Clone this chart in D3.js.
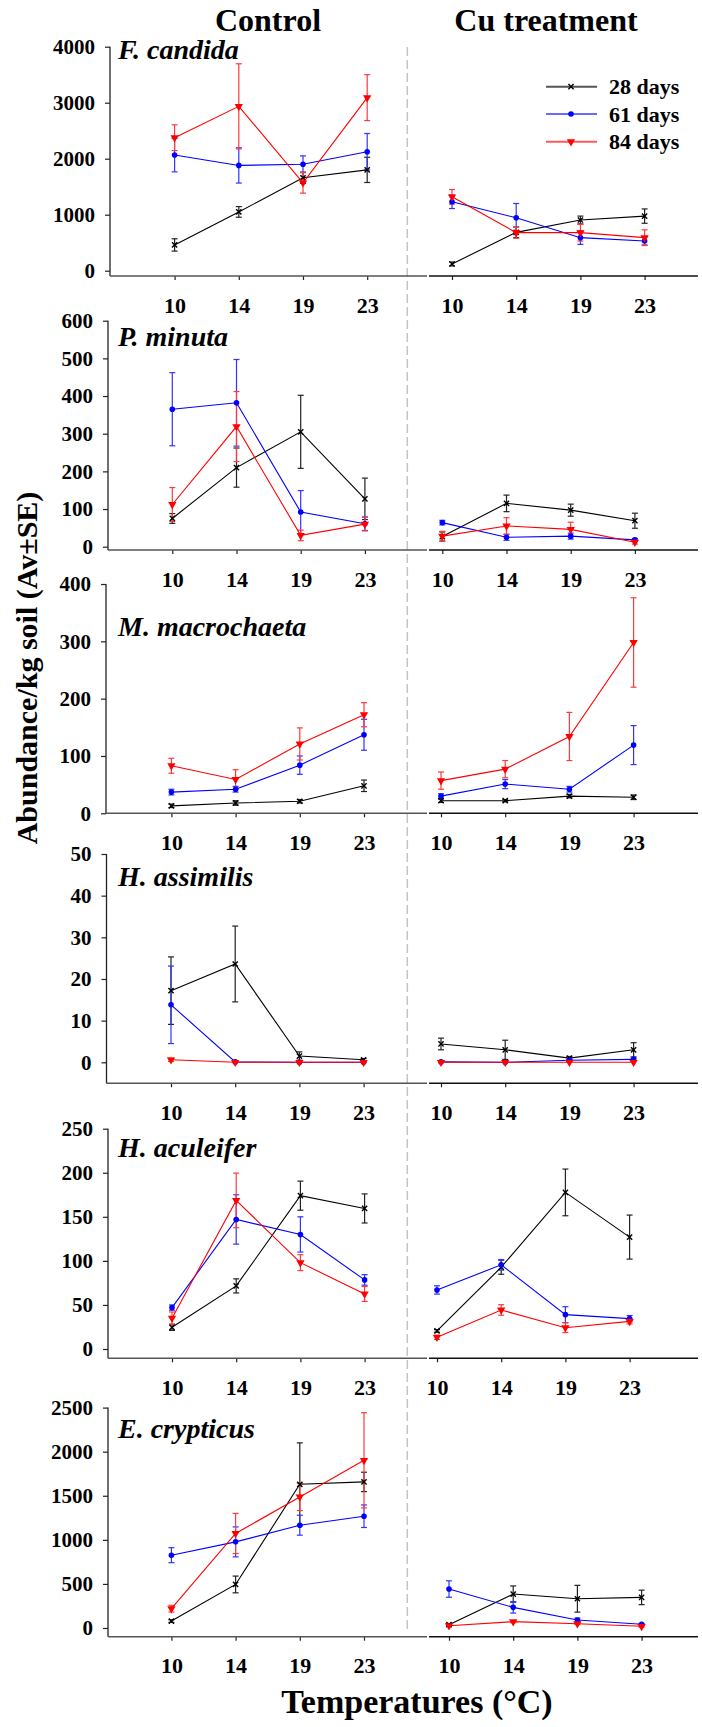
<!DOCTYPE html>
<html>
<head>
<meta charset="utf-8">
<script src="https://cdn.jsdelivr.net/npm/d3@7"></script>
<style>
  html, body { margin: 0; padding: 0; background: #fff; }
  svg { display: block; font-family: "Liberation Serif", "Times New Roman", serif; }
</style>
</head>
<body>
<svg id="chart" width="702" height="1727"></svg>
<script>
// ---- categories ----
const temps = ["10", "14", "19", "23"];
const seriesNames = ["28 days", "61 days", "84 days"];
const treatments = ["Control", "Cu treatment"];
const speciesNames = ["F. candida", "P. minuta", "M. macrochaeta", "H. assimilis", "H. aculeifer", "E. crypticus"];

// ---- abundance means and SE, rows = 28 / 61 / 84 days, columns = temperatures ----
const fCandidaControl   = [[460, 1050, 1660, 1800], [2065, 1880, 1900, 2125], [2375, 2935, 1570, 3090]];
const fCandidaControlSE = [[110, 95, 100, 225], [300, 315, 150, 325], [230, 760, 185, 410]];
const fCandidaCu        = [[120, 685, 905, 975], [1230, 945, 590, 530], [1320, 680, 680, 590]];
const fCandidaCuSE      = [[35, 95, 70, 128], [120, 255, 120, 70], [130, 100, 150, 140]];

const pMinutaControl    = [[75, 210, 305, 127], [365, 382, 92, 61], [112, 319, 30, 60]];
const pMinutaControlSE  = [[13, 52, 97, 55], [97, 115, 57, 18], [45, 93, 14, 18]];
const pMinutaCu         = [[27, 115, 97, 69], [64, 25, 28, 18], [28, 55, 46, 12]];
const pMinutaCuSE       = [[12, 22, 16, 20], [6, 8, 8, 4], [13, 22, 19, 5]];

const mMacroControl     = [[13, 18, 21, 48], [37, 42, 84, 137], [83, 59, 121, 172]];
const mMacroControlSE   = [[3, 4, 3, 10], [5, 5, 16, 27], [13, 17, 28, 21]];
const mMacroCu          = [[22, 22, 30, 28], [30, 51, 42, 119], [57, 77, 134, 298]];
const mMacroCuSE        = [[3, 2, 3, 4], [4, 8, 5, 34], [15, 15, 42, 78]];

const hAssimControl     = [[17.2, 23.6, 1.5, 0.6], [13.8, 0.1, 0, 0], [0.6, 0, 0, 0]];
const hAssimControlSE   = [[8.1, 9.1, 1, 0.3], [9.3, 0, 0, 0], [0.4, 0, 0, 0]];
const hAssimCu          = [[4.4, 3, 1, 3], [0.1, 0, 0.5, 0.7], [0, 0, 0, 0]];
const hAssimCuSE        = [[1.4, 2.3, 0.4, 1.7], [0, 0, 0.3, 0.3], [0, 0, 0, 0]];

const hAculControl      = [[24.6, 71.6, 174, 159.5], [47, 147, 130, 78.4], [35, 168.6, 98, 62.5]];
const hAculControlSE    = [[3.5, 8, 16.5, 16.5], [3, 28, 20, 6], [7, 31, 9, 8.5]];
const hAculCu           = [[20.5, 92.8, 177.7, 127], [67, 95.5, 39, 34.5], [13.3, 44.3, 24.2, 31.4]];
const hAculCuSE         = [[1.5, 8, 26.5, 25], [4.7, 6, 9, 3.5], [2.5, 6, 5.5, 3]];

const eCrypControl      = [[79, 494, 1630, 1657], [826, 977, 1166, 1268], [219, 1072, 1487, 1902]];
const eCrypControlSE    = [[15, 95, 470, 110], [85, 170, 113, 128], [38, 228, 155, 540]];
const eCrypCu           = [[38, 385, 332, 347], [442, 234, 91, 42], [26, 72, 49, 19]];
const eCrypCuSE         = [[10, 92, 152, 82], [93, 65, 22, 8], [8, 12, 8, 10]];

// ---- y tick labels ----
const fCandidaTicks = [0, 1000, 2000, 3000, 4000];
const pMinutaTicks  = [0, 100, 200, 300, 400, 500, 600];
const mMacroTicks   = [0, 100, 200, 300, 400];
const hAssimTicks   = [0, 10, 20, 30, 40, 50];
const hAculTicks    = [0, 50, 100, 150, 200, 250];
const eCrypTicks    = [0, 500, 1000, 1500, 2000, 2500];

const panelData = [
  { ctrl: fCandidaControl, ctrlSE: fCandidaControlSE, cu: fCandidaCu, cuSE: fCandidaCuSE, ticks: fCandidaTicks },
  { ctrl: pMinutaControl,  ctrlSE: pMinutaControlSE,  cu: pMinutaCu,  cuSE: pMinutaCuSE,  ticks: pMinutaTicks },
  { ctrl: mMacroControl,   ctrlSE: mMacroControlSE,   cu: mMacroCu,   cuSE: mMacroCuSE,   ticks: mMacroTicks },
  { ctrl: hAssimControl,   ctrlSE: hAssimControlSE,   cu: hAssimCu,   cuSE: hAssimCuSE,   ticks: hAssimTicks },
  { ctrl: hAculControl,    ctrlSE: hAculControlSE,    cu: hAculCu,    cuSE: hAculCuSE,    ticks: hAculTicks },
  { ctrl: eCrypControl,    ctrlSE: eCrypControlSE,    cu: eCrypCu,    cuSE: eCrypCuSE,    ticks: eCrypTicks }
];

// ---- panel geometry (pixels) ----
// top: y of highest tick, zero: y of value 0, axis: y of the x-axis line,
// yx: x of the y-axis, c10/u10: x of the first temperature in each treatment
const layout = [
  { top: 46.7,   zero: 270.7,  axis: 276,    yx: 110,   c10: 174.6, u10: 452,   label: 59 },
  { top: 320.7,  zero: 546.7,  axis: 550,    yx: 108,   c10: 172.3, u10: 442.3, label: 346 },
  { top: 584,    zero: 813.3,  axis: 813.3,  yx: 106,   c10: 171.4, u10: 441,   label: 636 },
  { top: 854,    zero: 1062.3, axis: 1083.3, yx: 106.5, c10: 171,   u10: 441,   label: 886 },
  { top: 1128.7, zero: 1349,   axis: 1358.3, yx: 108,   c10: 172,   u10: 437,   label: 1157 },
  { top: 1407.6, zero: 1628,   axis: 1636.7, yx: 108,   c10: 171.4, u10: 449,   label: 1438 }
];
const step = 64.2;
const splitX = 407.3;

const lineColors  = ["#000000", "#0000ff", "#ff0000"];
const errColors   = ["#222222", "#3333ff", "#ff3a3a"];
const legendLines = ["#555555", "#6a6aff", "#ff5a5a"];

const svg = d3.select("#chart");

function drawMarker(g, kind, x, y) {
  if (kind === 0) {
    const s = 2.6;
    g.append("path")
      .attr("d", `M${x - s},${y - s}L${x + s},${y + s}M${x - s},${y + s}L${x + s},${y - s}`)
      .attr("stroke", "#000").attr("stroke-width", 1.4).attr("fill", "none");
  } else if (kind === 1) {
    g.append("circle").attr("cx", x).attr("cy", y).attr("r", 2.8).attr("fill", "#0000ff");
  } else {
    g.append("path")
      .attr("d", d3.symbol().type(d3.symbolTriangle).size(30)())
      .attr("transform", `translate(${x},${y}) rotate(180)`)
      .attr("fill", "#ff0000");
  }
}

function drawTreatment(g, x, y, means, ses) {
  // error bars
  means.forEach((row, si) => {
    row.forEach((v, ti) => {
      const se = ses[si][ti];
      if (se <= 0) return;
      const cx = x(temps[ti]);
      const y1 = y(v + se), y2 = y(v - se);
      const eg = g.append("g").attr("stroke", errColors[si]).attr("stroke-width", 1.2).attr("fill", "none");
      eg.append("line").attr("x1", cx).attr("x2", cx).attr("y1", y1).attr("y2", y2);
      eg.append("line").attr("x1", cx - 3).attr("x2", cx + 3).attr("y1", y1).attr("y2", y1);
      eg.append("line").attr("x1", cx - 3).attr("x2", cx + 3).attr("y1", y2).attr("y2", y2);
    });
  });
  // lines and markers
  means.forEach((row, si) => {
    const line = d3.line().x((d, i) => x(temps[i])).y(d => y(d));
    g.append("path").datum(row).attr("d", line)
      .attr("fill", "none").attr("stroke", lineColors[si]).attr("stroke-width", 1.1);
    row.forEach((v, ti) => drawMarker(g, si, x(temps[ti]), y(v)));
  });
}

// dashed separator between treatments
svg.append("line")
  .attr("x1", splitX).attr("x2", splitX).attr("y1", 47).attr("y2", 1630)
  .attr("stroke", "#c4c4c4").attr("stroke-width", 1.5).attr("stroke-dasharray", "9,4");

panelData.forEach((pd, pi) => {
  const L = layout[pi];
  const maxTick = pd.ticks[pd.ticks.length - 1];
  const y = d3.scaleLinear().domain([0, maxTick]).range([L.zero, L.top]);
  const xc = d3.scalePoint().domain(temps).range([L.c10, L.c10 + 3 * step]);
  const xu = d3.scalePoint().domain(temps).range([L.u10, L.u10 + 3 * step]);
  const g = svg.append("g");

  // y axis
  const ya = g.append("g").attr("transform", `translate(${L.yx},0)`)
    .call(d3.axisLeft(y).tickValues(pd.ticks).tickSize(5).tickPadding(10).tickFormat(d3.format("d")));
  ya.select(".domain").remove();
  ya.selectAll(".tick line").attr("stroke", "#222").attr("stroke-width", 1.2);
  ya.selectAll(".tick text").attr("font-size", 21).attr("font-weight", "bold")
    .attr("font-family", "Liberation Serif, serif").attr("fill", "#000");
  g.append("line").attr("x1", L.yx).attr("x2", L.yx).attr("y1", L.top).attr("y2", L.axis)
    .attr("stroke", "#222").attr("stroke-width", 1.3);

  // x axes (control and Cu)
  [[xc, L.yx, 427, "#555"], [xu, 429, 698, "#111"]].forEach(([xs, a0, a1, col]) => {
    const xa = g.append("g").attr("transform", `translate(0,${L.axis})`)
      .call(d3.axisBottom(xs).tickSize(4).tickPadding(17));
    xa.select(".domain").remove();
    xa.selectAll(".tick line").attr("stroke", "#222").attr("stroke-width", 1.2);
    xa.selectAll(".tick text").attr("font-size", 22).attr("font-weight", "bold")
      .attr("font-family", "Liberation Serif, serif").attr("fill", "#000");
    g.append("line").attr("x1", a0).attr("x2", a1).attr("y1", L.axis).attr("y2", L.axis)
      .attr("stroke", col).attr("stroke-width", 1.6);
  });

  drawTreatment(g, xc, y, pd.ctrl, pd.ctrlSE);
  drawTreatment(g, xu, y, pd.cu, pd.cuSE);

  // species name
  g.append("text").attr("x", 118).attr("y", L.label)
    .attr("font-size", 28).attr("font-weight", "bold").attr("font-style", "italic")
    .text(speciesNames[pi]);
});

// treatment titles
svg.append("text").attr("x", 268).attr("y", 31).attr("text-anchor", "middle")
  .attr("font-size", 32).attr("font-weight", "bold").text(treatments[0]);
svg.append("text").attr("x", 546).attr("y", 31).attr("text-anchor", "middle")
  .attr("font-size", 32).attr("font-weight", "bold").text(treatments[1]);

// legend
const legendY = [86.7, 114, 141.7];
seriesNames.forEach((name, i) => {
  const lg = svg.append("g");
  lg.append("line").attr("x1", 546).attr("x2", 597).attr("y1", legendY[i]).attr("y2", legendY[i])
    .attr("stroke", legendLines[i]).attr("stroke-width", 2);
  drawMarker(lg, i, 571, legendY[i]);
  lg.append("text").attr("x", 609).attr("y", legendY[i] + 7.5)
    .attr("font-size", 22).attr("font-weight", "bold").text(name);
});

// axis titles
svg.append("text").attr("transform", "translate(37,668) rotate(-90)").attr("text-anchor", "middle")
  .attr("font-size", 30).attr("font-weight", "bold").text("Abundance/kg soil (Av±SE)");
svg.append("text").attr("x", 417).attr("y", 1713).attr("text-anchor", "middle")
  .attr("font-size", 34).attr("font-weight", "bold").text("Temperatures (°C)");
</script>
</body>
</html>
